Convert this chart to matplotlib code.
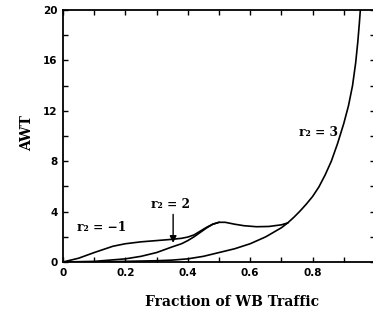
import matplotlib
matplotlib.use("Agg")
import matplotlib.pyplot as plt
from matplotlib.ticker import MultipleLocator, FixedLocator

# Data
x_m1 = [0, 0.05, 0.1, 0.13, 0.16, 0.2, 0.25, 0.3, 0.35, 0.38, 0.4, 0.42, 0.44, 0.46, 0.48, 0.5,
        0.52, 0.55, 0.58, 0.62, 0.66, 0.7, 0.72]
y_m1 = [0, 0.3, 0.75, 1.0, 1.25, 1.45, 1.6, 1.7, 1.8, 1.88, 1.98, 2.15, 2.45, 2.75, 3.0, 3.15,
        3.15, 3.0, 2.88, 2.8, 2.82, 2.95, 3.1]

x_2 = [0, 0.1, 0.2, 0.25, 0.3, 0.35, 0.38, 0.4, 0.42, 0.44, 0.46, 0.48, 0.5]
y_2 = [0, 0.05, 0.25, 0.45, 0.75, 1.2, 1.45, 1.7, 2.0, 2.35, 2.7, 3.0, 3.15]

x_3 = [0, 0.1, 0.2, 0.3, 0.35, 0.4, 0.45, 0.5, 0.55, 0.6, 0.65, 0.7, 0.72, 0.74, 0.76, 0.78,
       0.8, 0.82, 0.84, 0.86, 0.88, 0.9, 0.915, 0.928, 0.938, 0.945, 0.95, 0.953]
y_3 = [0, 0.0, 0.05, 0.1, 0.15, 0.25, 0.45, 0.75, 1.05, 1.45, 2.0, 2.72, 3.1, 3.55, 4.05, 4.6,
       5.2, 5.95, 6.9, 8.0, 9.4, 11.0, 12.4, 14.0, 15.8, 17.5, 19.0, 20.0]

x_ticks = [0, 0.2, 0.4, 0.6, 0.8]
x_ticklabels = ["0", "0.2", "0.4", "0.6", "0.8"]
y_ticks = [0, 4, 8, 12, 16, 20]
y_ticklabels = ["0", "4", "8", "12", "16", "20"]

W, H = 373, 309
fig = plt.figure(figsize=(W / 100, H / 100), dpi=100)
ax = fig.add_axes([63 / W, (H - 262) / H, (375 - 63) / W, (262 - 10) / H])

lw = 1.2
ax.plot(x_m1, y_m1, color="black", lw=lw, solid_joinstyle="round")
ax.plot(x_2, y_2, color="black", lw=lw, solid_joinstyle="round")
ax.plot(x_3, y_3, color="black", lw=lw, solid_joinstyle="round")

ax.set_xlim(0, 1.0)
ax.set_ylim(0, 20)

ax.xaxis.set_major_locator(FixedLocator(x_ticks))
ax.set_xticklabels(x_ticklabels)
ax.xaxis.set_minor_locator(MultipleLocator(0.1))
ax.yaxis.set_major_locator(FixedLocator(y_ticks))
ax.set_yticklabels(y_ticklabels)
ax.yaxis.set_minor_locator(MultipleLocator(2))

ax.tick_params(which="both", direction="in", top=True, right=True, length=3.5, width=1.0,
               labelsize=7.5, pad=4)
for lab in ax.get_xticklabels() + ax.get_yticklabels():
    lab.set_fontweight("bold")
    lab.set_family("DejaVu Sans")
for s in ax.spines.values():
    s.set_linewidth(1.3)

serif = "DejaVu Serif"
fs = 8.8
ax.text(0.125, 2.7, "r₂ = −1", family=serif, fontweight="bold", fontsize=fs,
        ha="center", va="center")
ax.text(0.346, 4.6, "r₂ = 2", family=serif, fontweight="bold", fontsize=fs,
        ha="center", va="center")
ax.text(0.82, 10.3, "r₂ = 3", family=serif, fontweight="bold", fontsize=fs,
        ha="center", va="center")
ax.annotate("", xy=(0.353, 1.3), xytext=(0.353, 4.0),
            arrowprops=dict(arrowstyle="-|>", color="black", lw=1.0,
                            mutation_scale=10))

fig.text(232 / W, 1 - 302 / H, "Fraction of WB Traffic", family=serif, fontweight="bold",
         fontsize=10, ha="center", va="center")
fig.text(27 / W, 1 - 133 / H, "AWT", family=serif, fontweight="bold", fontsize=10,
         ha="center", va="center", rotation=90)

fig.savefig("out.png", dpi=100)
